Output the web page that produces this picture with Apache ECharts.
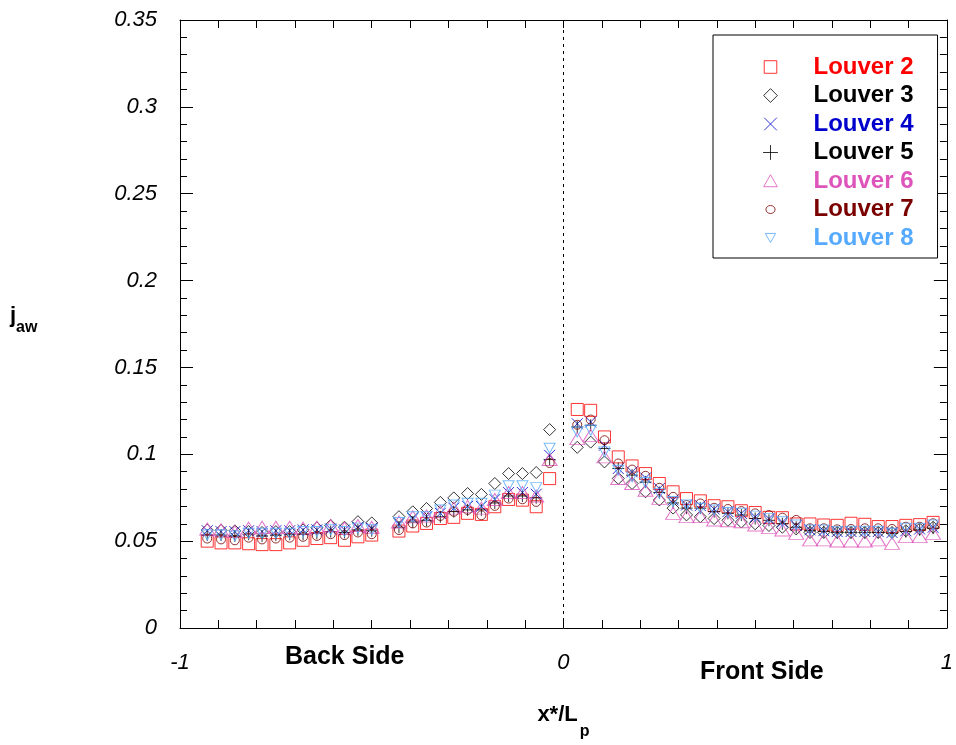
<!DOCTYPE html>
<html>
<head>
<meta charset="utf-8">
<script src="https://cdn.jsdelivr.net/npm/echarts@6/dist/echarts.min.js"></script>
<style>html,body{margin:0;padding:0;background:#fff}#c{width:956px;height:745px}</style>
</head>
<body>
<div id="c"></div>
<script>
// x*/Lp positions (back side then front side)
const xPos = [-0.929,-0.893,-0.857,-0.821,-0.786,-0.750,-0.714,-0.679,-0.643,-0.607,-0.571,-0.536,-0.500,
  -0.429,-0.393,-0.357,-0.321,-0.286,-0.250,-0.214,-0.179,-0.143,-0.107,-0.071,-0.036,
  0.036,0.071,0.107,0.143,0.179,0.214,0.250,0.286,0.321,0.357,0.393,0.429,0.464,0.500,0.536,0.571,0.607,0.643,0.679,0.714,0.750,0.786,0.821,0.857,0.893,0.929,0.964];

const louver2 = [0.0500,0.0490,0.0490,0.0485,0.0480,0.0480,0.0490,0.0505,0.0515,0.0520,0.0505,0.0525,0.0535,
  0.0558,0.0587,0.0602,0.0630,0.0637,0.0660,0.0654,0.0698,0.0740,0.0736,0.0698,0.0860,
  0.1258,0.1253,0.1100,0.0985,0.0933,0.0889,0.0832,0.0784,0.0745,0.0732,0.0704,0.0698,0.0675,0.0665,0.0637,0.0635,0.0599,0.0599,0.0593,0.0591,0.0603,0.0597,0.0584,0.0584,0.0591,0.0595,0.0608];
const louver3 = [0.0564,0.0562,0.0559,0.0555,0.0550,0.0555,0.0555,0.0565,0.0577,0.0590,0.0580,0.0612,0.0605,
  0.0641,0.0669,0.0688,0.0723,0.0749,0.0774,0.0769,0.0832,0.0889,0.0889,0.0895,0.1142,
  0.1040,0.1070,0.0956,0.0861,0.0832,0.0784,0.0737,0.0690,0.0651,0.0640,0.0630,0.0620,0.0610,0.0600,0.0590,0.0580,0.0570,0.0550,0.0550,0.0550,0.0550,0.0550,0.0550,0.0550,0.0560,0.0570,0.0580];
const louver4 = [0.0560,0.0555,0.0555,0.0560,0.0555,0.0560,0.0560,0.0565,0.0565,0.0570,0.0565,0.0580,0.0575,
  0.0600,0.0630,0.0640,0.0660,0.0690,0.0700,0.0700,0.0740,0.0780,0.0780,0.0770,0.0994,
  0.1176,0.1186,0.1052,0.0918,0.0899,0.0864,0.0803,0.0737,0.0708,0.0705,0.0685,0.0670,0.0660,0.0640,0.0630,0.0610,0.0590,0.0565,0.0560,0.0555,0.0555,0.0555,0.0555,0.0550,0.0560,0.0570,0.0580];
const louver5 = [0.0535,0.0535,0.0530,0.0540,0.0530,0.0535,0.0540,0.0540,0.0545,0.0555,0.0550,0.0565,0.0560,
  0.0580,0.0610,0.0620,0.0640,0.0670,0.0680,0.0680,0.0720,0.0760,0.0760,0.0750,0.0970,
  0.1157,0.1167,0.1033,0.0918,0.0880,0.0840,0.0780,0.0720,0.0690,0.0690,0.0670,0.0660,0.0650,0.0630,0.0620,0.0600,0.0580,0.0560,0.0555,0.0550,0.0550,0.0550,0.0550,0.0545,0.0555,0.0565,0.0575];
const louver6 = [0.0570,0.0565,0.0555,0.0575,0.0580,0.0580,0.0580,0.0575,0.0580,0.0590,0.0575,0.0590,0.0580,
  0.0610,0.0640,0.0645,0.0670,0.0690,0.0700,0.0690,0.0740,0.0780,0.0780,0.0760,0.0970,
  0.1090,0.1109,0.0985,0.0861,0.0832,0.0793,0.0746,0.0660,0.0641,0.0641,0.0622,0.0617,0.0612,0.0593,0.0578,0.0564,0.0545,0.0507,0.0507,0.0501,0.0501,0.0501,0.0507,0.0487,0.0526,0.0526,0.0545];
const louver7 = [0.0515,0.0510,0.0505,0.0520,0.0510,0.0515,0.0520,0.0525,0.0530,0.0540,0.0535,0.0550,0.0540,
  0.0564,0.0602,0.0607,0.0645,0.0669,0.0680,0.0649,0.0703,0.0745,0.0741,0.0726,0.0950,
  0.1170,0.1200,0.1081,0.0947,0.0912,0.0876,0.0807,0.0755,0.0708,0.0717,0.0692,0.0685,0.0673,0.0660,0.0650,0.0635,0.0622,0.0574,0.0574,0.0568,0.0570,0.0574,0.0574,0.0570,0.0583,0.0583,0.0603];
const louver8 = [0.0535,0.0535,0.0530,0.0545,0.0545,0.0545,0.0545,0.0555,0.0555,0.0565,0.0555,0.0575,0.0565,
  0.0607,0.0640,0.0640,0.0679,0.0708,0.0718,0.0718,0.0765,0.0819,0.0819,0.0808,0.1035,
  0.1128,0.1138,0.1014,0.0908,0.0870,0.0838,0.0775,0.0728,0.0708,0.0689,0.0679,0.0665,0.0660,0.0644,0.0631,0.0612,0.0593,0.0564,0.0564,0.0554,0.0557,0.0557,0.0557,0.0545,0.0574,0.0574,0.0593];

const seriesNames = ['Louver 2','Louver 3','Louver 4','Louver 5','Louver 6','Louver 7','Louver 8'];
const seriesValues = [louver2, louver3, louver4, louver5, louver6, louver7, louver8];
const yTickLabels = ['0','0.05','0.1','0.15','0.2','0.25','0.3','0.35'];
const xTickLabels = ['-1','0','1'];

const FONT = 'Liberation Sans, Arial, sans-serif';
const styles = [
  {color:'#ff0000', symbol:'rect', size:12, rotate:0, icon:'path://M0,0M14,14M1.5,1.5L12.5,1.5L12.5,12.5L1.5,12.5Z'},
  {color:'#000000', symbol:'diamond', size:[12,12], rotate:0, icon:'path://M0,0M14,14M7,1L13,7L7,13L1,7Z'},
  {color:'#0000cc', symbol:'path://M0,0L10,10M10,0L0,10', size:11, rotate:0, icon:'path://M0,0M14,14M1.5,1.5L12.5,12.5M12.5,1.5L1.5,12.5'},
  {color:'#000000', symbol:'path://M5,0L5,10M0,5L10,5', size:12, rotate:0, icon:'path://M0,0M14,14M7,0.5L7,13.5M0.5,7L13.5,7'},
  {color:'#dd55bb', symbol:'triangle', size:[15,12], rotate:0, icon:'path://M0,0M14,14M7,1.5L13,12L1,12Z'},
  {color:'#7a0000', symbol:'circle', size:9, rotate:0, icon:'path://M0,0M14,14M3,7A4,3.5,0,1,1,11,7A4,3.5,0,1,1,3,7Z'},
  {color:'#55aaff', symbol:'triangle', size:[11,10], rotate:180, icon:'path://M0,0M14,14M2.5,3L11.5,3L7,11Z'}
];

const series = seriesNames.map((name, i) => {
  const s = {
    name: name,
    type: 'scatter',
    data: xPos.map((x, j) => [x, seriesValues[i][j]]),
    symbol: styles[i].symbol,
    symbolSize: styles[i].size,
    symbolRotate: styles[i].rotate,
    itemStyle: {color: 'rgba(0,0,0,0)', borderColor: styles[i].color, borderWidth: 1},
    emphasis: {disabled: true},
    silent: true
  };
  if (i === 0) {
    s.markLine = {
      silent: true, symbol: 'none', label: {show: false},
      lineStyle: {color: '#000', width: 1, type: [3, 4]},
      data: [{xAxis: 0}]
    };
  }
  return s;
});

const chart = echarts.init(document.getElementById('c'), null, {renderer: 'canvas'});
const isInt = v => Math.abs(v - Math.round(v)) < 1e-9;
chart.setOption({
  animation: false,
  backgroundColor: '#fff',
  grid: {left: 180, right: 9, top: 20, bottom: 115},
  xAxis: [{
    type: 'value', min: -1, max: 1, interval: 0.1, position: 'bottom',
    axisLine: {show: true, onZero: false, lineStyle: {color: '#000', width: 1}},
    axisTick: {show: true, inside: true, length: 8, lineStyle: {color: '#000'}},
    splitLine: {show: false},
    axisLabel: {
      margin: 24, fontSize: 22, fontStyle: 'italic', fontFamily: FONT, color: '#000',
      formatter: v => isInt(v) ? xTickLabels[Math.round(v) + 1] : ''
    },
    name: '{b|x*/L}{s|p}', nameLocation: 'middle', nameGap: 76,
    nameTextStyle: {
      rich: {
        b: {fontSize: 22, fontWeight: 'bold', fontFamily: FONT, color: '#000', verticalAlign: 'top', lineHeight: 22},
        s: {fontSize: 16, fontWeight: 'bold', fontFamily: FONT, color: '#000', padding: [20, 0, 0, 2], verticalAlign: 'top', lineHeight: 16}
      }
    }
  }, {
    type: 'value', min: -1, max: 1, interval: 0.1, position: 'top',
    axisLine: {show: true, onZero: false, lineStyle: {color: '#000', width: 1}},
    axisTick: {show: true, inside: true, length: 8, lineStyle: {color: '#000'}},
    splitLine: {show: false}, axisLabel: {show: false}
  }],
  yAxis: [{
    type: 'value', min: 0, max: 0.35, interval: 0.05, position: 'left',
    axisLine: {show: true, onZero: false, lineStyle: {color: '#000', width: 1}},
    axisTick: {show: true, inside: true, length: 13, lineStyle: {color: '#000'}},
    minorTick: {show: true, splitNumber: 5, length: 7, lineStyle: {color: '#000'}},
    splitLine: {show: false},
    axisLabel: {
      margin: 23, fontSize: 22, fontStyle: 'italic', fontFamily: FONT, color: '#000',
      formatter: v => yTickLabels[Math.round(v / 0.05)]
    }
  }, {
    type: 'value', min: 0, max: 0.35, interval: 0.05, position: 'right',
    axisLine: {show: true, onZero: false, lineStyle: {color: '#000', width: 1}},
    axisTick: {show: true, inside: true, length: 13, lineStyle: {color: '#000'}},
    minorTick: {show: true, splitNumber: 5, length: 7, lineStyle: {color: '#000'}},
    splitLine: {show: false}, axisLabel: {show: false}
  }],
  legend: {
    orient: 'vertical', left: 713, top: 35,
    padding: [20, 24, 8, 49], itemGap: 4.5,
    itemWidth: 16, itemHeight: 16,
    borderColor: '#000', borderWidth: 1, backgroundColor: '#fff',
    selectedMode: false,
    textStyle: {fontSize: 24, fontWeight: 'bold', fontFamily: FONT, lineHeight: 24, padding: [0, 0, 0, 30]},
    data: seriesNames.map((n, i) => ({
      name: n, icon: styles[i].icon,
      itemStyle: {color: 'rgba(0,0,0,0)', borderColor: styles[i].color, borderWidth: 1},
      textStyle: {color: styles[i].color}
    }))
  },
  graphic: [
    {type: 'text', left: 10, top: 305, style: {
      text: '{j|j}{s|aw}',
      rich: {
        j: {fontSize: 22, fontWeight: 'bold', fontFamily: FONT, fill: '#000'},
        s: {fontSize: 16, fontWeight: 'bold', fontFamily: FONT, fill: '#000', padding: [24, 0, 0, 0]}
      }
    }},
    {type: 'text', left: 285, top: 645, style: {text: 'Back Side', fontSize: 25, fontWeight: 'bold', fontFamily: FONT, fill: '#000'}},
    {type: 'text', left: 700, top: 660, style: {text: 'Front Side', fontSize: 25, fontWeight: 'bold', fontFamily: FONT, fill: '#000'}}
  ],
  series: series
});
</script>
</body>
</html>
